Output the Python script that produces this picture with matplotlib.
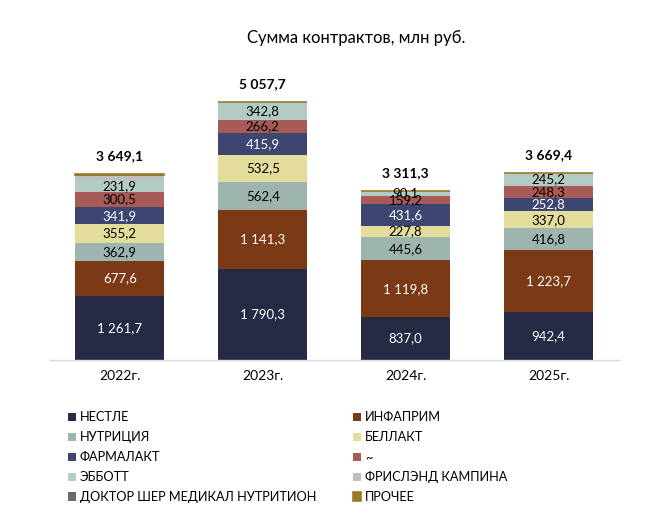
import matplotlib.pyplot as plt
import numpy as np

plt.rcParams['font.family'] = ['Lato', 'DejaVu Sans']

years = ["2022г.", "2023г.", "2024г.", "2025г."]
series = ["НЕСТЛЕ", "ИНФАПРИМ", "НУТРИЦИЯ", "БЕЛЛАКТ", "ФАРМАЛАКТ", "~",
          "ЭББОТТ", "ФРИСЛЭНД КАМПИНА", "ДОКТОР ШЕР МЕДИКАЛ НУТРИТИОН", "ПРОЧЕЕ"]

nestle = [1261.7, 1790.3, 837.0, 942.4]
infaprim = [677.6, 1141.3, 1119.8, 1223.7]
nutricia = [362.9, 562.4, 445.6, 416.8]
bellakt = [355.2, 532.5, 227.8, 337.0]
farmalakt = [341.9, 415.9, 431.6, 252.8]
tilde = [300.5, 266.2, 159.2, 248.3]
abbott = [231.9, 342.8, 90.1, 245.2]
friesland = [85.0, 0.0, 0.0, 0.0]
drschaer = [10.0, 0.0, 0.0, 0.0]
other = [22.4, 6.3, 0.2, 3.2]
totals = [3649.1, 5057.7, 3311.3, 3669.4]

data = [nestle, infaprim, nutricia, bellakt, farmalakt, tilde, abbott,
        friesland, drschaer, other]
colors = ["#262a45", "#7b3915", "#9db5ae", "#e3dc9a", "#3c4670", "#a85a57",
          "#b2ccc5", "#bfbfbf", "#6b6b6b", "#9a7a26"]
text_colors = ["white", "white", "black", "black", "white", "black", "black",
               None, None, None]


def fmt(v):
    return f"{v:,.1f}".replace(",", " ").replace(".", ",")


fig = plt.figure(figsize=(6.46, 5.26), dpi=100)
ax = fig.add_axes([0.077, 0.3156, 0.883, 0.543])

x = np.arange(len(years))
bottom = np.zeros(len(years))
handles = []
for i, vals in enumerate(data):
    vals = np.array(vals)
    if series[i] == "ПРОЧЕЕ":
        b = ax.bar(x, vals, 0.62, bottom=bottom, color=colors[i],
                   edgecolor=colors[i], linewidth=1.2)
    else:
        b = ax.bar(x, vals, 0.62, bottom=bottom, color=colors[i])
    handles.append(b)
    if text_colors[i] is not None:
        for j, v in enumerate(vals):
            ax.text(x[j], bottom[j] + v / 2, fmt(v), ha="center", va="center",
                    fontsize=9.5, color=text_colors[i])
    bottom += vals

for j, t in enumerate(totals):
    ax.text(x[j], t + 230, fmt(t), ha="center", va="bottom", fontsize=10,
            fontweight="bold", color="black")

ax.set_xlim(-0.49, 3.5)
ax.set_ylim(0, 5600)
ax.set_xticks(x)
ax.set_xticklabels(years, fontsize=10)
ax.tick_params(axis="x", length=0, pad=7)
ax.set_yticks([])
for s in ["top", "right", "left"]:
    ax.spines[s].set_visible(False)
ax.spines["bottom"].set_color("#d9d9d9")
ax.spines["bottom"].set_linewidth(1)

fig.text(0.551, 0.927, "Сумма контрактов, млн руб.", ha="center", va="center",
         fontsize=12)

order = [0, 2, 4, 6, 8, 1, 3, 5, 7, 9]
leg = fig.legend([handles[k] for k in order], [series[k] for k in order],
                 ncol=2, loc="upper left", bbox_to_anchor=(0.106, 0.218),
                 frameon=False, fontsize=9.2, handlelength=0.6,
                 handleheight=0.6, handletextpad=0.3, labelspacing=0.62,
                 columnspacing=2.9, borderaxespad=0, borderpad=0)

fig.savefig("out.png", dpi=100)
